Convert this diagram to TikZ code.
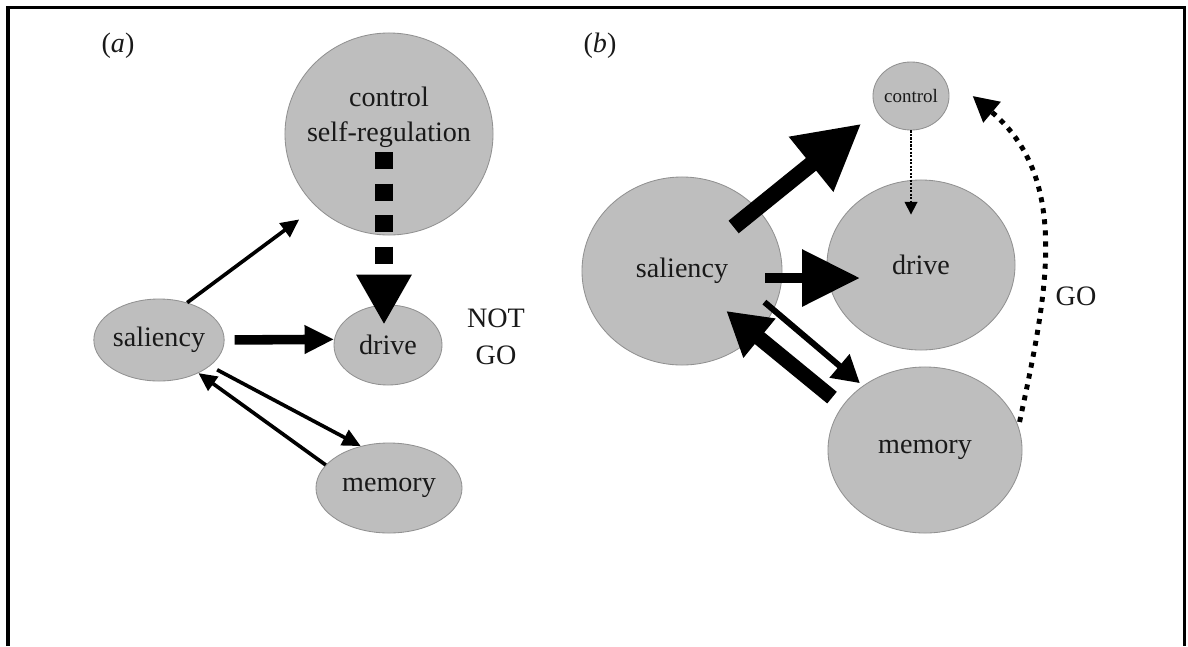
\documentclass[tikz,border=0pt]{standalone}
\usepackage{fontspec}
\setmainfont{Liberation Serif}
\usepackage{tikz}
\usetikzlibrary{shapes.geometric,arrows.meta}
\definecolor{blobgray}{RGB}{190,190,190}
\definecolor{rimgray}{RGB}{145,145,145}

\begin{document}
\begin{tikzpicture}[x=0.025cm,y=-0.025cm,
    blob/.style={ellipse,draw=rimgray,line width=0.6pt,fill=blobgray,inner sep=0pt,text=black!90,font=\fontsize{20}{24}\selectfont},
    lbl/.style={inner sep=0pt,align=center,text=black!90,font=\fontsize{20}{26}\selectfont},
    thinarr/.style={line width=2.6pt,-{Triangle[length=13pt,width=12pt]}}]
            \useasboundingbox (0,0) rectangle (1188,646);
            \draw [line width=2.2pt] (8,646) -- (8,7.5) -- (1184.5,7.5) -- (1184.5,646);

            \node [lbl] (labA) at (118,46) {(\textit{a})};
            \node [blob,minimum width=5.2cm,minimum height=5.05cm] (ctrlA) at (389,134) {};
            \node [lbl,font=\fontsize{20}{25}\selectfont] (ctrlAtext) at (389,117) {control\\self-regulation};
            \node [blob,minimum width=2.9cm,minimum height=2.05cm] (salA) at (159,340) {saliency};
            \node [blob,minimum width=2.7cm,minimum height=2cm] (drvA) at (388,345) {drive};
            \node [blob,minimum width=3.65cm,minimum height=2.25cm] (memA) at (389,488) {memory};
            \node [lbl] (notgo) at (496,337) {NOT\\GO};

            \draw [thinarr,shorten >=0.53cm] (salA.53) -- (ctrlA.225);
            \draw [line width=6.8pt,-{Triangle[length=21pt,width=19pt]},shorten <=0.25cm] (salA.east) -- (drvA.174);
            \draw [line width=12.8pt,dash pattern=on 12.1pt off 10.3pt,-{Triangle[length=35.6pt,width=37pt]}] ([xshift=-0.125cm,yshift=-0.45cm]ctrlA.center) -- ([xshift=-0.1cm,yshift=-0.5cm]drvA.north);
            \draw [thinarr] (memA.160) -- (salA.-40);
            \draw [thinarr,shorten <=0.2cm] (salA.-27) -- (memA.124);

            \node [lbl] (labB) at (600,46) {(\textit{b})};
            \node [blob,minimum width=1.7cm,minimum height=1.7cm,font=\fontsize{13.5}{15}\selectfont] (ctrlB) at (911,96) {control};
            \node [blob,minimum width=5cm,minimum height=4.7cm] (salB) at (682,271) {saliency};
            \node [blob,minimum width=4.7cm,minimum height=4.25cm] (drvB) at (921,265) {drive};
            \node [blob,minimum width=4.85cm,minimum height=4.15cm] (memB) at (925,450) {memory};
            \node [lbl] (go) at (1076,296) {GO};

            \draw [line width=11.5pt,-{Triangle[length=46pt,width=47pt]},shorten <=-0.75cm,shorten >=0.49cm] (salB.40) -- (ctrlB.204);
            \draw [line width=7pt,-{Triangle[length=41pt,width=39pt]},shorten <=-0.42cm,shorten >=-0.83cm] (salB.-4) -- (salB.-4 -| drvB.west);
            \draw [line width=1.2pt,dash pattern=on 1.5pt off 1pt,-{Triangle[length=9pt,width=9pt]},shorten >=-0.875cm] (ctrlB.south) -- (ctrlB.south |- drvB.north);
            \draw [line width=10.7pt,-{Triangle[length=30.5pt,width=34pt]},shorten <=0.33cm,shorten >=-0.95cm] (memB.152) -- (salB.-41);
            \draw [line width=4.3pt,-{Triangle[length=19pt,width=21pt]},shorten <=-0.3cm,shorten >=0.1cm] (salB.-23) -- (memB.134);
            \draw [line width=3.5pt,dash pattern=on 3.6pt off 4.3pt,-{Triangle[length=18pt,width=18.5pt]},shorten <=0.12cm] (memB.14) to [out=78,in=-40] ([xshift=0.58cm]ctrlB.east);
\end{tikzpicture}
\end{document}
